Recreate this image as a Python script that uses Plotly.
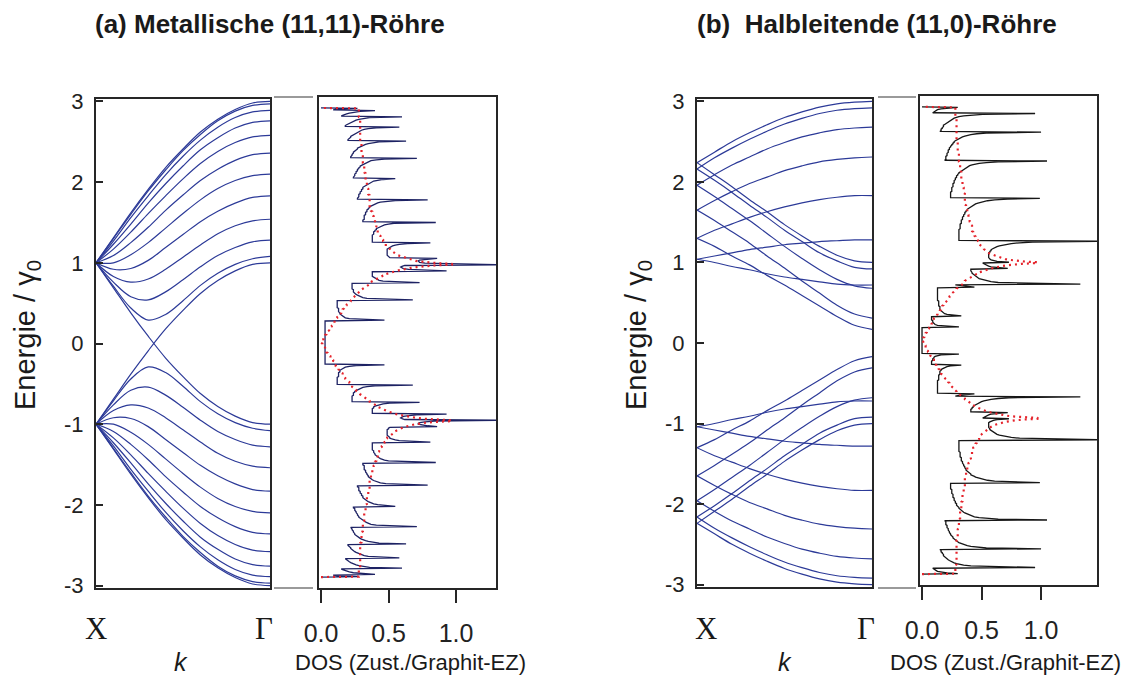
import plotly.graph_objects as go

# ---------------- data ----------------
# band energies (units of gamma0) along k from X (0) to Gamma (1)
K_POS = [0.0, 0.1, 0.2, 0.3, 0.4, 0.5, 0.6, 0.7, 0.8, 0.9, 1.0]

# (a) metallic (11,11) tube, upper (conduction) bands; valence bands mirror them
BANDS_A = [
    [1.00, 1.31, 1.62, 1.91, 2.18, 2.41, 2.62, 2.78, 2.90, 2.98, 3.00],
    [1.00, 1.30, 1.60, 1.89, 2.15, 2.39, 2.59, 2.76, 2.88, 2.95, 2.97],
    [1.00, 1.27, 1.56, 1.83, 2.09, 2.32, 2.52, 2.68, 2.80, 2.87, 2.89],
    [1.00, 1.23, 1.48, 1.74, 1.98, 2.20, 2.40, 2.55, 2.67, 2.74, 2.76],
    [1.00, 1.17, 1.38, 1.61, 1.83, 2.04, 2.23, 2.38, 2.49, 2.56, 2.58],
    [1.00, 1.09, 1.25, 1.44, 1.65, 1.84, 2.02, 2.16, 2.27, 2.34, 2.36],
    [1.00, 1.00, 1.10, 1.25, 1.43, 1.61, 1.78, 1.92, 2.02, 2.08, 2.10],
    [1.00, 0.92, 0.93, 1.03, 1.19, 1.35, 1.51, 1.64, 1.74, 1.81, 1.83],
    [1.00, 0.83, 0.76, 0.80, 0.92, 1.07, 1.22, 1.36, 1.46, 1.52, 1.54],
    [1.00, 0.76, 0.58, 0.54, 0.64, 0.79, 0.95, 1.09, 1.19, 1.26, 1.28],
    [1.00, 0.71, 0.44, 0.29, 0.36, 0.53, 0.72, 0.87, 0.98, 1.05, 1.08],
    [1.00, 0.69, 0.38, 0.09, -0.18, -0.41, -0.62, -0.78, -0.90, -0.98, -1.00],
]

# (b) semiconducting (11,0) tube, upper bands; valence bands mirror them
BANDS_B = [
    [2.24, 2.37, 2.50, 2.61, 2.71, 2.80, 2.87, 2.93, 2.97, 2.99, 3.00],
    [2.16, 2.30, 2.42, 2.53, 2.63, 2.72, 2.79, 2.85, 2.89, 2.91, 2.92],
    [1.96, 2.09, 2.21, 2.31, 2.41, 2.49, 2.56, 2.61, 2.65, 2.67, 2.68],
    [1.65, 1.77, 1.88, 1.98, 2.06, 2.14, 2.20, 2.25, 2.28, 2.30, 2.31],
    [1.30, 1.40, 1.48, 1.56, 1.63, 1.69, 1.74, 1.78, 1.81, 1.83, 1.83],
    [1.04, 1.08, 1.12, 1.16, 1.19, 1.22, 1.24, 1.26, 1.27, 1.28, 1.28],
    [1.04, 1.00, 0.95, 0.91, 0.86, 0.82, 0.79, 0.76, 0.73, 0.72, 0.72],
    [1.30, 1.20, 1.08, 0.97, 0.84, 0.72, 0.59, 0.46, 0.33, 0.22, 0.17],
    [1.65, 1.52, 1.38, 1.24, 1.08, 0.93, 0.77, 0.62, 0.47, 0.36, 0.31],
    [1.96, 1.82, 1.67, 1.52, 1.36, 1.20, 1.05, 0.91, 0.79, 0.71, 0.68],
    [2.16, 2.02, 1.87, 1.71, 1.56, 1.40, 1.26, 1.12, 1.02, 0.94, 0.92],
    [2.24, 2.09, 1.94, 1.78, 1.63, 1.47, 1.33, 1.20, 1.09, 1.02, 1.00],
]

# density of states (hundredths of states per graphite cell), sampled every
# 0.01 gamma0 starting at E = 0.005 (positive energies; negative side mirrors)
DOS_E_START = 0.005
DOS_E_STEP = 0.01
DOS_A = [
    3, 3, 3, 3, 3, 3, 3, 3, 3, 3,
    3, 3, 3, 3, 3, 3, 3, 3, 3, 3,
    3, 3, 3, 3, 3, 3, 3, 3, 47, 26,
    21, 18, 17, 16, 15, 14, 14, 14, 13, 13,
    13, 13, 13, 13, 12, 12, 12, 12, 12, 12,
    12, 12, 12, 12, 68, 40, 34, 31, 29, 28,
    27, 26, 25, 25, 24, 24, 24, 24, 23, 23,
    23, 23, 23, 23, 23, 23, 73, 51, 46, 43,
    42, 40, 39, 39, 38, 38, 38, 38, 38, 38,
    38, 93, 71, 65, 61, 60, 59, 60, 62, 135,
    84, 77, 73, 72, 72, 73, 79, 86, 51, 50,
    50, 49, 49, 49, 49, 49, 49, 49, 49, 49,
    50, 51, 51, 53, 55, 58, 64, 81, 38, 38,
    38, 38, 38, 38, 38, 38, 38, 38, 39, 39,
    39, 39, 40, 40, 41, 41, 42, 43, 44, 45,
    47, 50, 54, 85, 31, 31, 31, 32, 32, 32,
    32, 32, 32, 33, 33, 33, 33, 34, 34, 34,
    35, 35, 36, 36, 37, 38, 39, 40, 42, 44,
    48, 55, 79, 27, 27, 28, 28, 28, 28, 28,
    29, 29, 29, 30, 30, 30, 31, 31, 31, 32,
    33, 33, 34, 35, 36, 37, 39, 42, 46, 55,
    24, 24, 25, 25, 25, 25, 26, 26, 26, 27,
    27, 27, 28, 28, 29, 29, 30, 31, 32, 33,
    34, 35, 37, 41, 47, 71, 22, 22, 23, 23,
    23, 24, 24, 24, 25, 25, 26, 27, 27, 28,
    29, 30, 31, 33, 35, 38, 43, 63, 20, 20,
    21, 21, 22, 22, 23, 23, 24, 25, 26, 27,
    28, 30, 32, 35, 41, 58, 18, 18, 19, 20,
    21, 22, 23, 24, 26, 28, 31, 36, 60, 15,
    16, 17, 19, 21, 24, 29, 40, 9, 12, 27,
]
DOS_B = [
    0, 0, 0, 0, 0, 0, 0, 0, 0, 0,
    0, 0, 0, 0, 0, 0, 0, 31, 16, 13,
    11, 10, 10, 9, 9, 9, 8, 8, 8, 8,
    8, 33, 24, 21, 19, 18, 17, 16, 16, 15,
    15, 15, 15, 15, 14, 14, 14, 14, 14, 14,
    14, 13, 13, 13, 13, 13, 13, 13, 13, 13,
    13, 13, 13, 13, 13, 13, 13, 13, 44, 37,
    31, 28, 133, 73, 64, 58, 55, 52, 50, 48,
    47, 46, 45, 44, 43, 43, 42, 42, 41, 41,
    41, 41, 72, 63, 58, 56, 54, 53, 52, 51,
    73, 63, 60, 58, 57, 56, 56, 56, 56, 56,
    56, 56, 56, 57, 57, 58, 58, 59, 60, 62,
    63, 65, 68, 71, 75, 82, 93, 155, 31, 31,
    31, 31, 31, 31, 31, 31, 31, 31, 31, 31,
    31, 31, 31, 32, 32, 32, 32, 32, 32, 32,
    33, 33, 33, 33, 33, 34, 34, 34, 34, 35,
    35, 35, 36, 36, 36, 37, 37, 38, 38, 39,
    40, 41, 41, 42, 44, 45, 47, 49, 52, 55,
    61, 72, 99, 24, 24, 24, 24, 24, 24, 24,
    24, 25, 25, 25, 25, 25, 25, 26, 26, 26,
    26, 26, 27, 27, 27, 27, 28, 28, 28, 29,
    29, 29, 30, 30, 31, 31, 32, 33, 33, 34,
    35, 36, 37, 38, 40, 42, 44, 48, 54, 64,
    105, 19, 20, 20, 20, 20, 20, 21, 21, 21,
    21, 22, 22, 22, 22, 23, 23, 23, 24, 24,
    25, 25, 26, 26, 27, 27, 28, 29, 30, 31,
    32, 34, 36, 38, 41, 46, 54, 100, 15, 16,
    16, 16, 17, 17, 18, 18, 18, 19, 20, 20,
    21, 22, 23, 24, 25, 27, 29, 31, 35, 41,
    51, 95, 9, 10, 11, 12, 13, 16, 21, 30,
]
# graphite (graphene) DOS, red dotted curve, same sampling
DOS_GRAPHITE = [
    0, 1, 1, 1, 2, 2, 3, 3, 3, 3,
    4, 4, 4, 5, 5, 6, 6, 7, 7, 7,
    8, 8, 9, 9, 10, 10, 10, 10, 10, 11,
    11, 12, 12, 13, 13, 14, 14, 15, 15, 16,
    16, 16, 16, 17, 17, 18, 18, 19, 19, 20,
    21, 21, 22, 22, 23, 23, 23, 24, 24, 25,
    26, 26, 27, 28, 28, 29, 29, 30, 30, 31,
    32, 33, 34, 35, 36, 36, 36, 37, 38, 40,
    41, 42, 42, 43, 45, 46, 48, 48, 50, 52,
    54, 55, 58, 61, 63, 67, 71, 76, 84, 97,
    97, 86, 78, 74, 70, 68, 65, 63, 61, 60,
    59, 57, 56, 55, 55, 54, 53, 52, 52, 51,
    50, 49, 49, 48, 48, 48, 48, 47, 47, 46,
    46, 46, 45, 45, 44, 44, 44, 43, 43, 43,
    42, 42, 42, 42, 42, 42, 42, 42, 41, 41,
    41, 41, 40, 40, 40, 40, 40, 39, 39, 39,
    39, 39, 38, 38, 38, 38, 38, 38, 37, 37,
    37, 37, 37, 37, 36, 36, 36, 36, 36, 36,
    36, 36, 36, 36, 36, 36, 36, 36, 36, 35,
    35, 35, 35, 35, 35, 35, 35, 34, 34, 34,
    34, 34, 34, 34, 34, 34, 34, 33, 33, 33,
    33, 33, 33, 33, 33, 33, 33, 32, 32, 32,
    32, 32, 32, 32, 32, 32, 32, 32, 32, 31,
    31, 31, 31, 31, 31, 31, 31, 31, 31, 31,
    31, 31, 30, 30, 30, 30, 30, 30, 30, 30,
    30, 30, 30, 30, 30, 30, 29, 29, 29, 29,
    29, 29, 29, 29, 29, 29, 29, 29, 29, 29,
    29, 29, 29, 29, 29, 29, 29, 29, 29, 29,
    29, 29, 29, 29, 29, 29, 29, 29, 28, 28,
    28, 28, 28, 28, 28, 28, 28, 28, 28, 28,
]
E_TICKS = [3, 2, 1, 0, -1, -2, -3]
E_TICK_TEXT = ['3', '2', '1', '0', '-1', '-2', '-3']
DOS_TICKS = [0.0, 0.5, 1.0]
DOS_TICK_TEXT = ['0.0', '0.5', '1.0']
K_LABELS = ['X', 'Γ']
TITLE_A = '(a) Metallische (11,11)-Röhre'
TITLE_B = '(b)&nbsp; Halbleitende (11,0)-Röhre'

# ---------------- figure ----------------
W, H = 1138, 675
OFF = 8  # the page body margin shifts the figure by 8 px; positions below are screen pixels
FR = '#262626'
BAND = '#2c3a98'


def px(x):
    return (x - OFF) / W


def py(y):
    return 1 - (y - OFF) / H


fig = go.Figure()


def add_bands(bands, xa, ya):
    for b in bands:
        for sign in (1, -1):
            fig.add_trace(go.Scatter(x=K_POS, y=[sign * v for v in b], mode='lines',
                                     line=dict(color=BAND, width=1.2, shape='spline', smoothing=1.0),
                                     xaxis=xa, yaxis=ya, showlegend=False, hoverinfo='skip'))


add_bands(BANDS_A, 'x', 'y')
add_bands(BANDS_B, 'x3', 'y3')

n_e = len(DOS_A)
energies = [round(DOS_E_START + DOS_E_STEP * i, 3) for i in range(n_e)]
e_full = [-3.0] + [-e for e in energies[::-1]] + energies + [3.0]


def full(d):
    vals = [v / 100 for v in d]
    return [0.0] + vals[::-1] + vals + [0.0]


for dos, xa, ya, col in ((DOS_A, 'x2', 'y2', '#1d2263'), (DOS_B, 'x4', 'y4', '#161616')):
    fig.add_trace(go.Scatter(x=full(dos), y=e_full, mode='lines', line=dict(color=col, width=1.3),
                             xaxis=xa, yaxis=ya, showlegend=False, hoverinfo='skip'))
    fig.add_trace(go.Scatter(x=full(DOS_GRAPHITE), y=e_full, mode='lines',
                             line=dict(color='#e5232b', width=2.2, dash='2px,4px'),
                             xaxis=xa, yaxis=ya, showlegend=False, hoverinfo='skip'))

common = dict(showline=True, mirror=True, linecolor=FR, linewidth=2, showgrid=False, zeroline=False,
              automargin=False)
bandy = dict(common, range=[-3.03, 3.03], tickvals=E_TICKS, ticktext=E_TICK_TEXT, ticks='inside', ticklen=7,
             tickwidth=2, tickcolor=FR, tickfont=dict(size=22, family='Liberation Sans', color='#222'),
             ticklabelstandoff=6)
bandx = dict(common, range=[0, 1], showticklabels=False, ticks='')
dosy = dict(common, range=[-3.14, 3.14], showticklabels=False, ticks='')
dosx = dict(common, tickvals=DOS_TICKS, ticktext=DOS_TICK_TEXT, ticks='outside', ticklen=13, tickwidth=2,
            tickcolor=FR, tickfont=dict(size=25, family='Liberation Sans', color='#222'), ticklabelstandoff=9)

fig.update_layout(
    width=W, height=H, autosize=False,
    margin=dict(l=0, r=0, t=0, b=0, pad=0, autoexpand=False),
    plot_bgcolor='white', paper_bgcolor='white', showlegend=False,
    xaxis=dict(bandx, domain=[px(96), px(270)], anchor='y'),
    yaxis=dict(bandy, domain=[py(588), py(99)], anchor='x'),
    xaxis2=dict(dosx, domain=[px(319), px(496)], range=[-0.0148, 1.296], anchor='y2'),
    yaxis2=dict(dosy, domain=[py(588), py(97)], anchor='x2'),
    xaxis3=dict(bandx, domain=[px(697), px(872)], anchor='y3'),
    yaxis3=dict(bandy, domain=[py(587), py(99)], anchor='x3'),
    xaxis4=dict(dosx, domain=[px(920), px(1097)], range=[-0.017, 1.47], anchor='y4'),
    yaxis4=dict(dosy, domain=[py(585), py(96)], anchor='x4'),
)

ann = []


def A(text, x, y, size, family='Liberation Sans', angle=0, style='normal'):
    ann.append(dict(text=text, x=px(x), y=py(y), xref='paper', yref='paper', showarrow=False, xanchor='center',
                    yanchor='middle', textangle=angle,
                    font=dict(size=size, family=family, color='#1a1a1a', style=style)))


A('<b>' + TITLE_A + '</b>', 270, 24, 26)
A('<b>' + TITLE_B + '</b>', 877, 24, 26)
for xo, xg, xk_, yt in ((0, 264, 181, 27), (610, 866, 785, 638)):
    A(K_LABELS[0], 96 + xo, 628, 31, 'Liberation Serif')
    A(K_LABELS[1], xg, 628, 31, 'Liberation Serif')
    A('k', xk_, 662, 25, style='italic')
    A('Energie / γ<sub>0</sub>', yt, 335, 29, angle=-90)
A('DOS (Zust./Graphit-EZ)', 410, 662, 22)
A('DOS (Zust./Graphit-EZ)', 1005, 662, 22)
fig.update_layout(annotations=ann)

for (x0, x1) in ((274, 313), (878, 916)):
    for yy in (97, 588):
        fig.add_shape(type='line', x0=px(x0), x1=px(x1), y0=py(yy), y1=py(yy), xref='paper', yref='paper',
                      line=dict(color='#9a9a9a', width=2))

fig.write_html('out.html')
